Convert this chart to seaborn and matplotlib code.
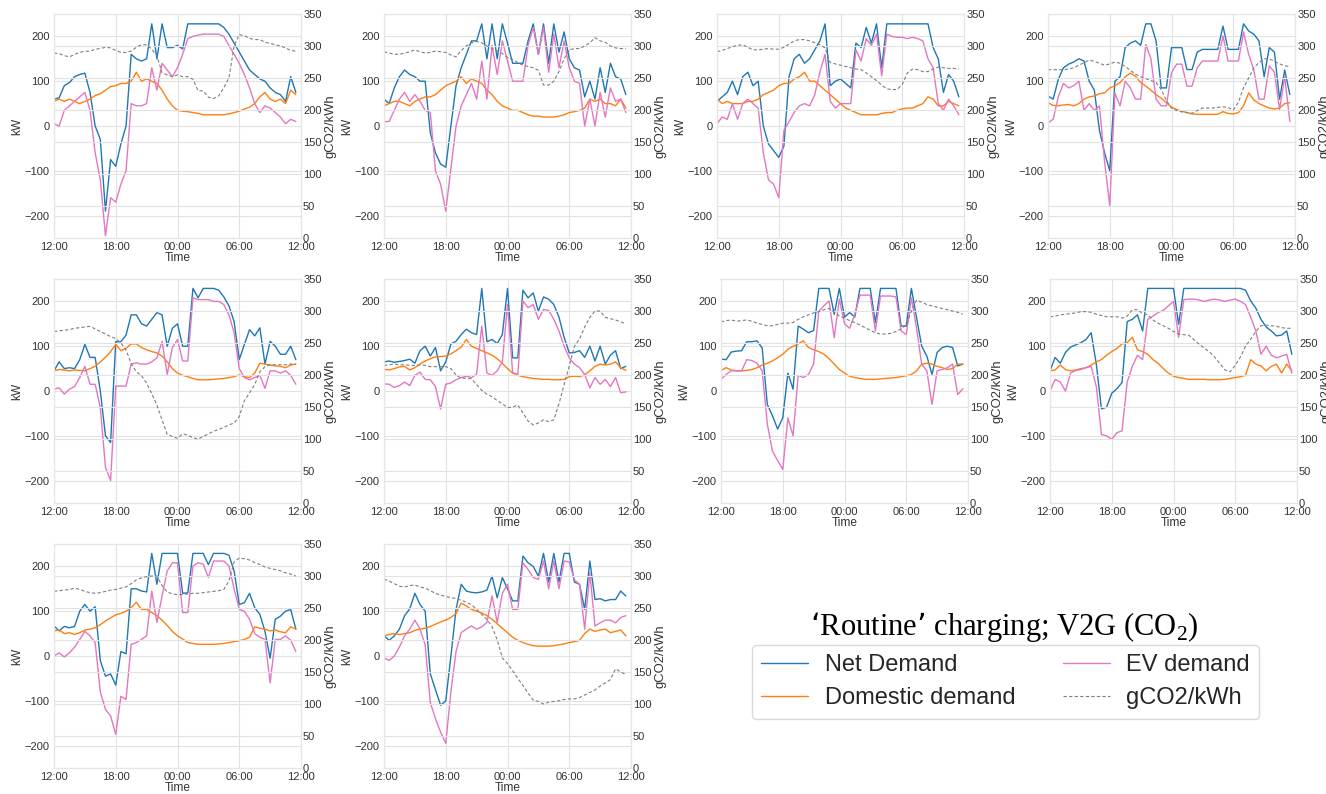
import numpy as np
import matplotlib
matplotlib.use("Agg")
import matplotlib.pyplot as plt
import seaborn as sns

# ---------------------------------------------------------------------------
# Data: half-hourly samples from 12:00 to 11:30 next day (hours after 12:00)
# ---------------------------------------------------------------------------
hours = np.arange(0, 24, 0.5)
time_ticks = [0, 6, 12, 18, 24]
time_labels = ["12:00", "18:00", "00:00", "06:00", "12:00"]
kw_ticks = [-200, -100, 0, 100, 200]
co2_ticks = [0, 50, 100, 150, 200, 250, 300, 350]
series_names = ["Net Demand", "Domestic demand", "EV demand", "gCO2/kWh"]
chart_title = "\u2018Routine\u2019 charging; V2G (CO$_\\mathregular{2}$)"

# Day 1
net_p1 = [60, 63, 90, 97, 110, 115, 118, 75, 0, -30, -190, -75, -90, -40, 0, 160, 150, 145, 150, 228, 150, 228, 175, 175,
          180, 172, 228, 228, 228, 228, 228, 228, 228, 220, 205, 185, 165, 145, 125, 115, 105, 100, 85, 75, 70, 55, 110, 75]
ev_p1 = [5, 0, 35, 45, 55, 65, 75, 35, -60, -120, -245, -160, -170, -130, -100, 50, 45, 45, 50, 130, 80, 140, 125, 110,
         130, 160, 195, 200, 203, 205, 205, 205, 205, 200, 180, 160, 140, 115, 85, 50, 30, 45, 40, 30, 20, 5, 15, 10]
dom_p1 = [55, 60, 55, 60, 55, 50, 55, 60, 68, 72, 80, 88, 90, 95, 95, 100, 120, 100, 105, 100, 95, 80, 60, 45,
          35, 33, 32, 30, 28, 25, 25, 25, 25, 25, 27, 30, 33, 38, 42, 50, 65, 75, 60, 55, 60, 50, 80, 70]
co2_p1 = [289, 288, 285, 283, 287, 290, 292, 292, 295, 296, 298, 297, 293, 290, 290, 292, 298, 302, 302, 295, 285, 258, 255, 252,
          255, 252, 252, 248, 230, 230, 220, 218, 222, 235, 250, 300, 318, 316, 312, 310, 310, 306, 304, 302, 300, 297, 293, 292]

# Day 2
net_p2 = [60, 50, 85, 110, 125, 115, 110, 100, 100, -15, -60, -85, -92, 0, 90, 130, 160, 190, 190, 228, 150, 228, 150, 228,
          185, 140, 140, 140, 190, 228, 160, 228, 140, 228, 165, 210, 150, 130, 125, 65, 100, 60, 130, 75, 140, 110, 105, 70]
ev_p2 = [10, 10, 35, 60, 75, 55, 70, 55, 35, 30, -100, -130, -190, -95, 0, 45, 70, 95, 60, 145, 60, 180, 115, 190,
         145, 100, 100, 100, 180, 220, 160, 220, 120, 205, 130, 190, 130, 100, 95, 0, 60, 0, 75, 20, 85, 55, 60, 30]
dom_p2 = [45, 50, 55, 55, 50, 45, 55, 60, 65, 65, 70, 80, 90, 95, 100, 110, 95, 105, 100, 95, 80, 70, 55, 45,
          40, 35, 35, 30, 25, 22, 22, 20, 20, 20, 22, 25, 30, 32, 35, 40, 60, 55, 60, 50, 50, 45, 60, 40]
co2_p2 = [291, 289, 287, 287, 289, 291, 294, 291, 289, 290, 292, 291, 290, 286, 283, 293, 300, 305, 307, 305, 300, 296, 292, 288,
          282, 279, 274, 270, 268, 266, 262, 239, 239, 245, 260, 280, 294, 296, 296, 300, 305, 313, 308, 306, 300, 297, 296, 296]

# Day 3
net_p3 = [55, 65, 75, 100, 70, 110, 120, 90, 100, 0, -40, -55, -70, -45, 110, 150, 160, 140, 150, 170, 190, 228, 90, 100,
          105, 95, 85, 185, 175, 220, 185, 228, 130, 228, 228, 228, 228, 228, 228, 228, 228, 228, 175, 150, 75, 115, 100, 65]
ev_p3 = [5, 20, 15, 50, 15, 50, 60, 50, 40, -60, -120, -130, -160, -10, 10, 30, 45, 50, 45, 70, 120, 160, 55, 40,
         50, 50, 50, 170, 145, 195, 180, 205, 112, 205, 200, 198, 198, 195, 198, 195, 190, 150, 130, 50, 35, 60, 45, 25]
dom_p3 = [60, 50, 55, 50, 50, 50, 55, 55, 60, 70, 75, 80, 90, 95, 95, 105, 110, 120, 100, 100, 90, 80, 70, 60,
          50, 40, 35, 30, 25, 25, 25, 25, 28, 30, 30, 35, 38, 40, 40, 45, 50, 65, 60, 45, 45, 55, 50, 45]
co2_p3 = [291, 293, 296, 299, 301, 302, 298, 294, 294, 295, 296, 295, 295, 298, 303, 308, 310, 310, 308, 305, 302, 297, 274, 272,
          270, 268, 266, 264, 263, 258, 252, 246, 239, 233, 232, 232, 240, 258, 264, 263, 260, 260, 264, 267, 266, 265, 265, 264]

# Day 4
net_p4 = [67, 60, 104, 130, 138, 143, 150, 145, 100, 80, -10, -60, -100, 100, 110, 175, 185, 190, 180, 228, 228, 190, 85, 85,
          175, 175, 175, 126, 126, 165, 171, 171, 171, 171, 223, 171, 171, 171, 228, 212, 205, 190, 110, 175, 165, 60, 125, 70]
ev_p4 = [7, 15, 65, 95, 85, 90, 100, 35, 50, 35, 45, -80, -178, 74, 45, 100, 85, 60, 60, 182, 150, 60, 45, 45,
         119, 138, 138, 89, 89, 130, 145, 145, 145, 145, 201, 145, 145, 145, 210, 160, 125, 60, 60, 134, 120, 37, 110, 10]
dom_p4 = [52, 46, 45, 47, 48, 45, 50, 60, 65, 67, 72, 74, 85, 90, 97, 110, 118, 111, 97, 89, 80, 70, 62, 52,
          42, 37, 33, 30, 27, 26, 26, 26, 26, 26, 32, 28, 27, 30, 45, 74, 58, 50, 45, 40, 38, 40, 50, 52]
co2_p4 = [263, 263, 263, 263, 264, 266, 270, 274, 278, 276, 273, 270, 272, 275, 273, 268, 262, 256, 252, 249, 246, 243, 232, 215,
          203, 199, 197, 196, 195, 199, 203, 203, 203, 204, 205, 204, 200, 212, 235, 250, 266, 274, 280, 280, 276, 272, 269, 268]

# Day 5
net_p5 = [45, 65, 50, 52, 50, 70, 104, 75, 75, 0, -100, -115, 110, 110, 125, 170, 170, 150, 145, 160, 175, 170, 100, 140,
          150, 100, 100, 229, 208, 229, 229, 229, 225, 210, 190, 155, 70, 104, 137, 123, 141, 60, 111, 100, 82, 82, 100, 70]
ev_p5 = [4, 7, -7, 4, 10, 30, 55, 15, 15, -37, -170, -200, 11, 11, 11, 60, 63, 60, 60, 65, 74, 111, 37, 97,
         115, 67, 67, 208, 204, 204, 204, 200, 200, 193, 170, 130, 50, 30, 25, 30, 35, 6, 45, 45, 40, 45, 35, 15]
dom_p5 = [45, 48, 47, 45, 47, 46, 45, 50, 55, 65, 75, 88, 104, 90, 95, 105, 105, 97, 92, 88, 85, 78, 65, 50,
          40, 35, 32, 28, 25, 25, 25, 26, 27, 28, 30, 32, 36, 32, 30, 40, 62, 60, 58, 56, 55, 52, 58, 60]
co2_p5 = [268, 269, 270, 271, 273, 274, 275, 276, 272, 268, 264, 260, 257, 250, 239, 218, 205, 199, 187, 171, 153, 130, 107, 104,
          101, 108, 106, 102, 100, 104, 108, 112, 115, 118, 122, 125, 135, 160, 172, 185, 205, 213, 216, 216, 216, 216, 217, 217]

# Day 6
net_p6 = [65, 67, 64, 66, 68, 71, 62, 90, 100, 78, 97, 45, 65, 105, 111, 126, 138, 130, 126, 229, 110, 115, 106, 126,
          229, 74, 74, 225, 208, 219, 178, 210, 205, 193, 165, 120, 85, 86, 90, 75, 100, 67, 100, 60, 80, 90, 50, 55]
ev_p6 = [16, 15, 8, 12, 20, 12, 35, 42, 26, 25, 10, -40, 15, 18, 25, 30, 33, 30, 38, 145, 40, 35, 45, 65,
         193, 41, 37, 201, 186, 193, 160, 182, 180, 160, 134, 100, 74, 60, 52, 37, 7, 30, 15, 26, 10, 30, -4, -2]
dom_p6 = [48, 47, 50, 54, 55, 47, 52, 60, 67, 72, 76, 77, 78, 83, 90, 98, 115, 100, 95, 90, 85, 80, 72, 62,
          50, 40, 35, 32, 30, 28, 27, 26, 26, 25, 25, 26, 32, 33, 32, 36, 45, 55, 60, 58, 60, 65, 52, 46]
co2_p6 = [215, 216, 217, 216, 216, 215, 215, 216, 215, 213, 213, 213, 213, 210, 200, 195, 195, 194, 185, 176, 170, 166, 160, 155,
          149, 150, 153, 141, 128, 122, 125, 130, 127, 130, 155, 185, 214, 245, 256, 275, 290, 300, 300, 290, 288, 286, 283, 280]

# Day 7
net_p7 = [71, 70, 87, 89, 90, 110, 110, 112, 96, -30, -55, -85, -60, 40, 4, 145, 138, 130, 135, 229, 229, 229, 171, 229,
          165, 175, 165, 229, 229, 229, 152, 229, 229, 229, 229, 145, 145, 229, 164, 100, 78, 37, 86, 97, 100, 97, 56, 60]
ev_p7 = [26, 37, 45, 45, 45, 70, 68, 62, 45, -74, -134, -155, -175, -60, -100, 35, 30, 37, 60, 178, 190, 201, 119, 205,
         150, 140, 171, 214, 214, 214, 134, 212, 212, 212, 210, 134, 126, 208, 141, 60, 45, -30, 45, 48, 52, 60, -8, 5]
dom_p7 = [46, 52, 47, 45, 45, 46, 48, 52, 58, 62, 67, 74, 82, 93, 100, 105, 112, 97, 92, 88, 82, 72, 60, 48,
          40, 33, 30, 28, 26, 26, 26, 27, 28, 29, 30, 32, 34, 37, 45, 60, 62, 60, 55, 52, 48, 50, 60, 60]
co2_p7 = [283, 285, 286, 284, 285, 286, 284, 281, 279, 277, 277, 279, 281, 281, 282, 287, 291, 294, 297, 299, 302, 304, 298, 292,
          289, 285, 282, 278, 274, 270, 266, 264, 264, 265, 268, 272, 278, 300, 317, 314, 310, 308, 306, 304, 302, 300, 298, 295]

# Day 8
net_p8 = [45, 75, 62, 86, 98, 103, 108, 115, 130, 60, -40, -36, -5, 5, 19, 155, 160, 170, 134, 229, 229, 229, 229, 229,
          229, 149, 229, 229, 229, 229, 229, 229, 229, 229, 229, 229, 229, 229, 225, 201, 185, 160, 143, 134, 123, 125, 134, 82]
ev_p8 = [0, 26, 20, 0, 40, 46, 48, 52, 55, 10, -97, -100, -108, -93, -89, 20, 55, 80, 70, 160, 167, 175, 180, 190,
         200, 120, 204, 205, 205, 203, 200, 203, 205, 203, 200, 203, 205, 200, 193, 165, 134, 82, 100, 80, 74, 78, 82, 40]
dom_p8 = [45, 47, 58, 48, 45, 47, 50, 52, 58, 65, 70, 80, 88, 95, 105, 108, 120, 92, 88, 82, 70, 62, 50, 40,
          33, 30, 28, 26, 26, 26, 26, 25, 25, 25, 26, 28, 30, 32, 35, 70, 60, 56, 45, 55, 60, 40, 60, 45]
co2_p8 = [291, 292, 294, 295, 296, 297, 299, 299, 298, 295, 293, 291, 291, 291, 289, 292, 302, 302, 296, 294, 286, 281, 277, 273,
          268, 264, 263, 262, 255, 248, 242, 236, 228, 218, 208, 205, 215, 228, 245, 256, 268, 277, 278, 277, 276, 274, 273, 273]

# Day 9
net_p9 = [67, 56, 66, 63, 66, 100, 115, 100, 110, -10, -45, -40, -65, 10, 5, 150, 150, 145, 143, 229, 160, 229, 229, 229,
          229, 140, 141, 229, 229, 229, 204, 229, 229, 229, 225, 190, 115, 119, 140, 108, 93, 55, -5, 82, 89, 100, 104, 60]
ev_p9 = [0, 7, -2, 7, 20, 37, 55, 45, 30, -80, -119, -134, -175, -90, -97, 26, 30, 37, 45, 145, 75, 134, 190, 208,
         208, 97, 97, 201, 208, 205, 175, 212, 212, 212, 201, 150, 104, 100, 82, 50, 42, 37, -60, 37, 37, 45, 35, 10]
dom_p9 = [56, 58, 50, 52, 48, 52, 58, 60, 63, 70, 78, 85, 92, 95, 100, 108, 120, 104, 104, 97, 90, 80, 68, 55,
          45, 38, 30, 28, 26, 26, 26, 26, 27, 28, 30, 32, 34, 37, 42, 65, 62, 60, 56, 58, 54, 52, 65, 60]
co2_p9 = [276, 277, 278, 279, 281, 279, 276, 274, 273, 274, 276, 278, 279, 281, 283, 288, 294, 297, 299, 300, 300, 285, 275, 272,
          271, 271, 272, 273, 273, 274, 275, 276, 277, 279, 292, 322, 328, 327, 325, 321, 318, 314, 312, 310, 308, 305, 303, 300]

# Day 10
net_p10 = [45, 35, 45, 60, 90, 105, 140, 115, 100, -40, -75, -110, -100, 0, 104, 160, 145, 142, 141, 143, 147, 178, 130, 175,
           150, 123, 123, 223, 208, 200, 178, 229, 165, 229, 165, 229, 229, 165, 160, 104, 212, 126, 128, 123, 126, 126, 145, 134]
ev_p10 = [-4, -10, 0, 20, 45, 60, 80, 60, 25, -104, -140, -170, -195, -80, 10, 52, 60, 67, 60, 65, 75, 134, 75, 140,
          160, 104, 104, 208, 193, 175, 171, 212, 150, 212, 150, 212, 210, 170, 160, 60, 186, 67, 74, 80, 80, 74, 86, 90]
dom_p10 = [45, 48, 50, 48, 50, 52, 57, 60, 62, 66, 71, 76, 80, 86, 95, 118, 112, 104, 100, 96, 90, 82, 72, 62,
           52, 42, 35, 30, 26, 23, 22, 22, 22, 23, 25, 27, 30, 32, 35, 50, 60, 55, 58, 60, 52, 55, 58, 45]
co2_p10 = [295, 292, 288, 284, 283, 285, 286, 283, 281, 277, 273, 270, 268, 266, 265, 262, 259, 255, 248, 240, 232, 221, 200, 172,
           163, 152, 140, 129, 117, 106, 104, 100, 103, 104, 105, 107, 108, 108, 110, 114, 118, 122, 128, 133, 138, 155, 150, 146]

panels = [
    (net_p1, dom_p1, ev_p1, co2_p1),
    (net_p2, dom_p2, ev_p2, co2_p2),
    (net_p3, dom_p3, ev_p3, co2_p3),
    (net_p4, dom_p4, ev_p4, co2_p4),
    (net_p5, dom_p5, ev_p5, co2_p5),
    (net_p6, dom_p6, ev_p6, co2_p6),
    (net_p7, dom_p7, ev_p7, co2_p7),
    (net_p8, dom_p8, ev_p8, co2_p8),
    (net_p9, dom_p9, ev_p9, co2_p9),
    (net_p10, dom_p10, ev_p10, co2_p10),
]

# ---------------------------------------------------------------------------
# Style
# ---------------------------------------------------------------------------
TEXT = "#333333"
GRID = "#e2e2e2"
sns.set_theme(style="whitegrid", rc={
    "grid.color": GRID,
    "grid.linewidth": 0.8,
    "axes.edgecolor": "#e6e6e6",
    "axes.linewidth": 0.8,
    "xtick.color": TEXT,
    "ytick.color": TEXT,
    "axes.labelcolor": TEXT,
    "xtick.major.size": 0,
    "ytick.major.size": 0,
})
plt.rcParams["font.family"] = ["Liberation Sans", "DejaVu Sans"]

COLORS = {"net": "#1f77b4", "dom": "#ff7f0e", "ev": "#e377c2", "co2": "#7f7f7f"}

W, H = 1326, 794
AX_W, AX_H = 247, 224
# (left, top) of each panel in pixels
positions = [(54, 14), (384, 14), (717, 14), (1048, 14),
             (54, 279), (384, 279), (721, 279), (1050, 279),
             (54, 544), (384, 544)]

fig = plt.figure(figsize=(W / 100, H / 100), dpi=100)

legend_handles = None
for (left, top), (net, dom, ev, co2) in zip(positions, panels):
    ax = fig.add_axes([left / W, 1 - (top + AX_H) / H, AX_W / W, AX_H / H])
    sns.lineplot(x=hours, y=net, ax=ax, color=COLORS["net"], linewidth=1.0,
                 label=series_names[0], legend=False)
    sns.lineplot(x=hours, y=dom, ax=ax, color=COLORS["dom"], linewidth=1.0,
                 label=series_names[1], legend=False)
    sns.lineplot(x=hours, y=ev, ax=ax, color=COLORS["ev"], linewidth=1.0,
                 label=series_names[2], legend=False)
    ax.set_xlim(0, 24)
    ax.set_ylim(-250, 250)
    ax.set_xticks(time_ticks, time_labels)
    ax.set_yticks(kw_ticks)
    ax.tick_params(axis="both", length=0, labelsize=8, pad=3)
    ax.set_xlabel("Time", fontsize=8.6, labelpad=0)
    ax.set_ylabel("kW", fontsize=8.6, labelpad=1)

    ax2 = ax.twinx()
    sns.lineplot(x=hours, y=co2, ax=ax2, color=COLORS["co2"], linewidth=0.8,
                 label=series_names[3], legend=False)
    ax2.lines[0].set_linestyle((0, (3, 2)))
    ax2.set_ylim(0, 350)
    ax2.set_yticks(co2_ticks)
    ax2.tick_params(axis="y", length=0, labelsize=8, pad=1.5)
    ax2.set_ylabel("gCO2/kWh", fontsize=9.4, labelpad=2)
    ax2.grid(True, axis="y", color=GRID, linewidth=0.8)
    for sp in ax2.spines.values():
        sp.set_color("#e6e6e6")

    if legend_handles is None:
        legend_handles = list(ax.get_lines()[:3]) + [ax2.get_lines()[0]]

fig.text(1004 / W, 1 - 627 / H, chart_title, ha="center", va="center",
         fontsize=22, family=["Liberation Serif", "DejaVu Serif"], color="black")

fig.legend(legend_handles, series_names, loc="upper center",
           bbox_to_anchor=(1005.5 / W, 1 - 645 / H), ncol=2, fontsize=17,
           frameon=True, fancybox=True, edgecolor="#d9d9d9", framealpha=1,
           handlelength=2.0, handletextpad=0.7, columnspacing=2.0,
           labelspacing=0.45, borderpad=0.4, borderaxespad=0)

fig.savefig("out.png", dpi=100)
